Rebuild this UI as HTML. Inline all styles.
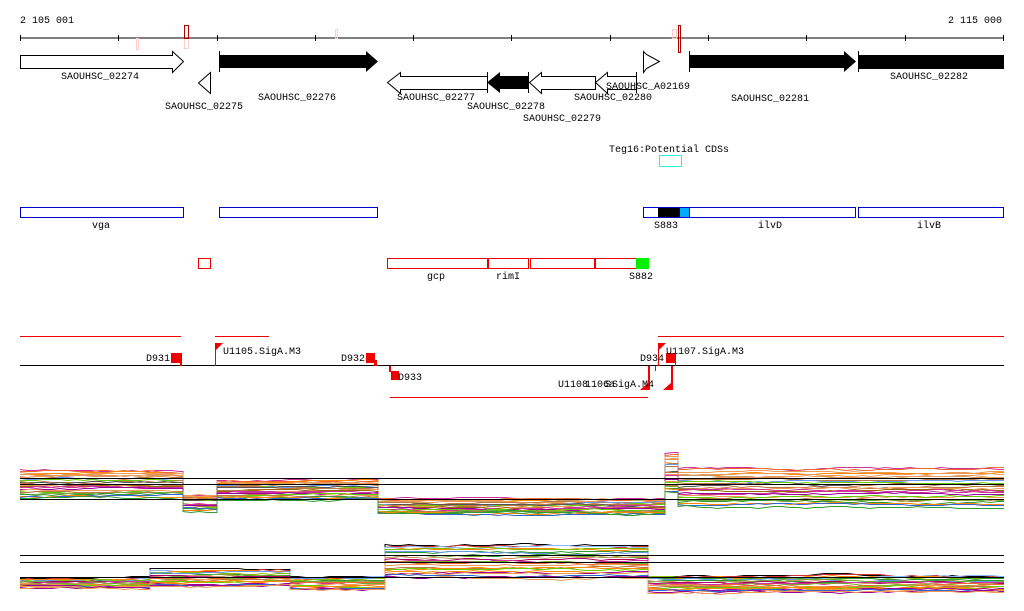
<!DOCTYPE html>
<html><head><meta charset="utf-8"><style>
html,body{margin:0;padding:0;background:#fff;width:1024px;height:611px;overflow:hidden}
svg{display:block}
text{font-family:"Liberation Mono","DejaVu Sans Mono",monospace;font-size:10px;fill:#000}
</style></head><body>
<svg id="s" width="1024" height="611" xmlns="http://www.w3.org/2000/svg">
<text x="20" y="23">2 105 001</text>
<text x="1002" y="23" text-anchor="end">2 115 000</text>
<line x1="20" y1="38" x2="1004" y2="38" stroke="#000"/>
<g stroke="#000">
<line x1="20.5" y1="35" x2="20.5" y2="41"/><line x1="118.5" y1="35" x2="118.5" y2="41"/><line x1="217.5" y1="35" x2="217.5" y2="41"/><line x1="315.5" y1="35" x2="315.5" y2="41"/><line x1="413.5" y1="35" x2="413.5" y2="41"/><line x1="511.5" y1="35" x2="511.5" y2="41"/><line x1="610.5" y1="35" x2="610.5" y2="41"/><line x1="708.5" y1="35" x2="708.5" y2="41"/><line x1="806.5" y1="35" x2="806.5" y2="41"/><line x1="905.5" y1="35" x2="905.5" y2="41"/><line x1="1003.5" y1="35" x2="1003.5" y2="41"/>
</g>
<rect x="136.5" y="38.5" width="2" height="11" fill="none" stroke="#fcc"/>
<rect x="184.5" y="38.5" width="4" height="10" fill="none" stroke="#fcc"/>
<rect x="184.5" y="25.5" width="4" height="13" fill="none" stroke="#a00"/>
<rect x="335.5" y="29.5" width="2" height="9" fill="none" stroke="#fcc"/>
<rect x="672.5" y="29.5" width="4" height="9" fill="none" stroke="#fcc"/>
<rect x="678.5" y="25.5" width="2" height="27" fill="none" stroke="#a00"/>
<polygon points="20.5,55.5 172.5,55.5 172.5,51.5 183.5,61.5 172.5,72.5 172.5,68.5 20.5,68.5" fill="#fff" stroke="#000"/>
<text x="100" y="79" text-anchor="middle">SAOUHSC_02274</text>
<polygon points="210.5,72.5 210.5,93.5 198.5,83" fill="#fff" stroke="#000"/>
<text x="204" y="109" text-anchor="middle">SAOUHSC_02275</text>
<line x1="219.5" y1="51" x2="219.5" y2="72" stroke="#000"/>
<polygon points="219,55 366,55 366,51 378,61.5 366,72 366,68 219,68" fill="#000"/>
<text x="297" y="100" text-anchor="middle">SAOUHSC_02276</text>
<polygon points="487.5,76.5 400.5,76.5 400.5,72.5 387.5,82.5 400.5,93.5 400.5,89.5 487.5,89.5" fill="#fff" stroke="#000"/>
<text x="436" y="100" text-anchor="middle">SAOUHSC_02277</text>
<polygon points="528,76 500,76 500,72 487,82.5 500,93 500,89 528,89" fill="#000"/>
<line x1="487.5" y1="72" x2="487.5" y2="93" stroke="#000"/>
<text x="506" y="109" text-anchor="middle">SAOUHSC_02278</text>
<line x1="528.5" y1="72" x2="528.5" y2="93" stroke="#000"/>
<polygon points="595.5,76.5 541.5,76.5 541.5,72.5 529.5,82.5 541.5,93.5 541.5,89.5 595.5,89.5" fill="#fff" stroke="#000"/>
<text x="562" y="121" text-anchor="middle">SAOUHSC_02279</text>
<polygon points="636.5,76.5 607.5,76.5 607.5,72.5 595.5,82.5 607.5,93.5 607.5,89.5 636.5,89.5" fill="#fff" stroke="#000"/>
<line x1="636.5" y1="72" x2="636.5" y2="93" stroke="#000"/>
<text x="613" y="100" text-anchor="middle">SAOUHSC_02280</text>
<polygon points="643.5,51.5 643.5,72.5 646.5,68.5 659.5,61.5 646.5,54.5" fill="#fff" stroke="#000"/>
<text x="648" y="89" text-anchor="middle">SAOUHSC_A02169</text>
<line x1="689.5" y1="51" x2="689.5" y2="72" stroke="#000"/>
<polygon points="689,55 844,55 844,51 856,61.5 844,72 844,68 689,68" fill="#000"/>
<text x="770" y="101" text-anchor="middle">SAOUHSC_02281</text>
<line x1="858.5" y1="51" x2="858.5" y2="72" stroke="#000"/>
<rect x="858" y="55" width="146" height="14" fill="#000"/>
<text x="929" y="79" text-anchor="middle">SAOUHSC_02282</text>
<text x="609" y="152">Teg16:Potential CDSs</text>
<rect x="659.5" y="155.5" width="22" height="11" fill="none" stroke="#3ee"/>
<g fill="none" stroke="#00c">
<rect x="20.5" y="207.5" width="163" height="10"/>
<rect x="219.5" y="207.5" width="158" height="10"/>
<rect x="643.5" y="207.5" width="212" height="10"/>
<rect x="858.5" y="207.5" width="145" height="10"/>
</g>
<rect x="658" y="208" width="22" height="9" fill="#000"/>
<rect x="680" y="208" width="9" height="9" fill="#0af"/>
<line x1="689.5" y1="208" x2="689.5" y2="217" stroke="#00c"/>
<text x="101" y="228" text-anchor="middle">vga</text>
<text x="666" y="228" text-anchor="middle">S883</text>
<text x="770" y="228" text-anchor="middle">ilvD</text>
<text x="929" y="228" text-anchor="middle">ilvB</text>
<g fill="none" stroke="#e00">
<rect x="198.5" y="258.5" width="12" height="10"/>
<rect x="387.5" y="258.5" width="100" height="10"/>
<rect x="488.5" y="258.5" width="40" height="10"/>
<rect x="530.5" y="258.5" width="64" height="10"/>
<rect x="595.5" y="258.5" width="41" height="10"/>
</g>
<rect x="636" y="258" width="13" height="11" fill="#0e0"/>
<text x="436" y="279" text-anchor="middle">gcp</text>
<text x="508" y="279" text-anchor="middle">rimI</text>
<text x="641" y="279" text-anchor="middle">S882</text>
<g stroke="#e00">
<line x1="20" y1="336.5" x2="181" y2="336.5"/>
<line x1="215" y1="336.5" x2="269" y2="336.5"/>
<line x1="658" y1="336.5" x2="1004" y2="336.5"/>
<line x1="390" y1="397.5" x2="648" y2="397.5"/>
</g>
<line x1="20" y1="365.5" x2="1004" y2="365.5" stroke="#000"/>
<g fill="#e00">
<rect x="171" y="353" width="9" height="10"/><rect x="180" y="353" width="2" height="13"/>
<polygon points="215,343 223,343 215,351"/><rect x="215" y="343" width="1" height="23"/>
<rect x="366" y="353" width="9" height="10"/><rect x="374" y="360" width="3" height="6"/>
<rect x="389" y="366" width="2" height="6"/><rect x="391" y="371" width="8" height="9"/>
<polygon points="658,343 666,343 658,351"/><rect x="658" y="343" width="1" height="23"/>
<rect x="666" y="353" width="10" height="10"/><rect x="675" y="353" width="1" height="13"/>
<rect x="671" y="366" width="2" height="24"/><polygon points="672,382 672,390 663,390"/>
<rect x="648" y="366" width="2" height="24"/><polygon points="649,382 649,390 640,390"/>
<rect x="655" y="366" width="1" height="5"/>
</g>
<text x="146" y="361">D931</text>
<text x="223" y="354">U1105.SigA.M3</text>
<text x="341" y="361">D932</text>
<text x="398" y="380">D933</text>
<text x="640" y="361">D934</text>
<text x="666" y="354">U1107.SigA.M3</text>
<text x="558" y="387">U1108</text>
<text x="585" y="387">1106a</text>
<text x="612" y="387">SigA.M4</text>
<text x="605" y="387">S</text>
<g id="plots"></g>
<g stroke="#000">
<line x1="20" y1="478.5" x2="1004" y2="478.5"/>
<line x1="20" y1="484.5" x2="1004" y2="484.5"/>
<line x1="20" y1="499.5" x2="1004" y2="499.5"/>
<line x1="20" y1="555.5" x2="1004" y2="555.5"/>
<line x1="20" y1="562.5" x2="1004" y2="562.5"/>
<line x1="20" y1="577.5" x2="1004" y2="577.5"/>
</g>
</svg>
<script>
(function(){
var seed=7;function r(){seed=(seed*16807)%2147483647;return seed/2147483647;}
var cols=["#c33","#e63","#f80","#960","#8b0","#6c0","#393","#36c","#69e","#8bf","#909","#c39","#a06","#555","#000","#c96","#b74","#d52","#e95","#7a3"];
var p1=[[20,183,470,498],[183,217,494,511],[217,378,479,500],[378,665,498,514],[665,678,452,492],[678,1004,468,506]];
var p2=[[20,150,578,588],[150,290,569,586],[290,385,576,590],[385,648,544,578],[648,1004,575,592]];
var g=document.getElementById('plots'),ns="http://www.w3.org/2000/svg";
function draw(segs,n){
 for(var i=0;i<n;i++){
  var f=i/(n-1);var pts=[];var off=0;
  for(var s=0;s<segs.length;s++){
   var sg=segs[s];var base=sg[2]+(sg[3]-sg[2])*f;
   for(var x=sg[0];x<=sg[1];x+=8){
     off+= (r()-0.5)*1.6; off*=0.9;
     var y=Math.round(base+off);
     pts.push(x+","+(y+0.5));
   }
   pts.push(sg[1]+","+(Math.round(base+off)+0.5));
  }
  var pl=document.createElementNS(ns,"polyline");
  pl.setAttribute("points",pts.join(" "));
  pl.setAttribute("fill","none");
  pl.setAttribute("stroke",cols[Math.floor(r()*cols.length)]);
  pl.setAttribute("stroke-width","1");
  g.appendChild(pl);
 }
}
draw(p1,26);draw(p2,24);
})();
</script>
</body></html>
